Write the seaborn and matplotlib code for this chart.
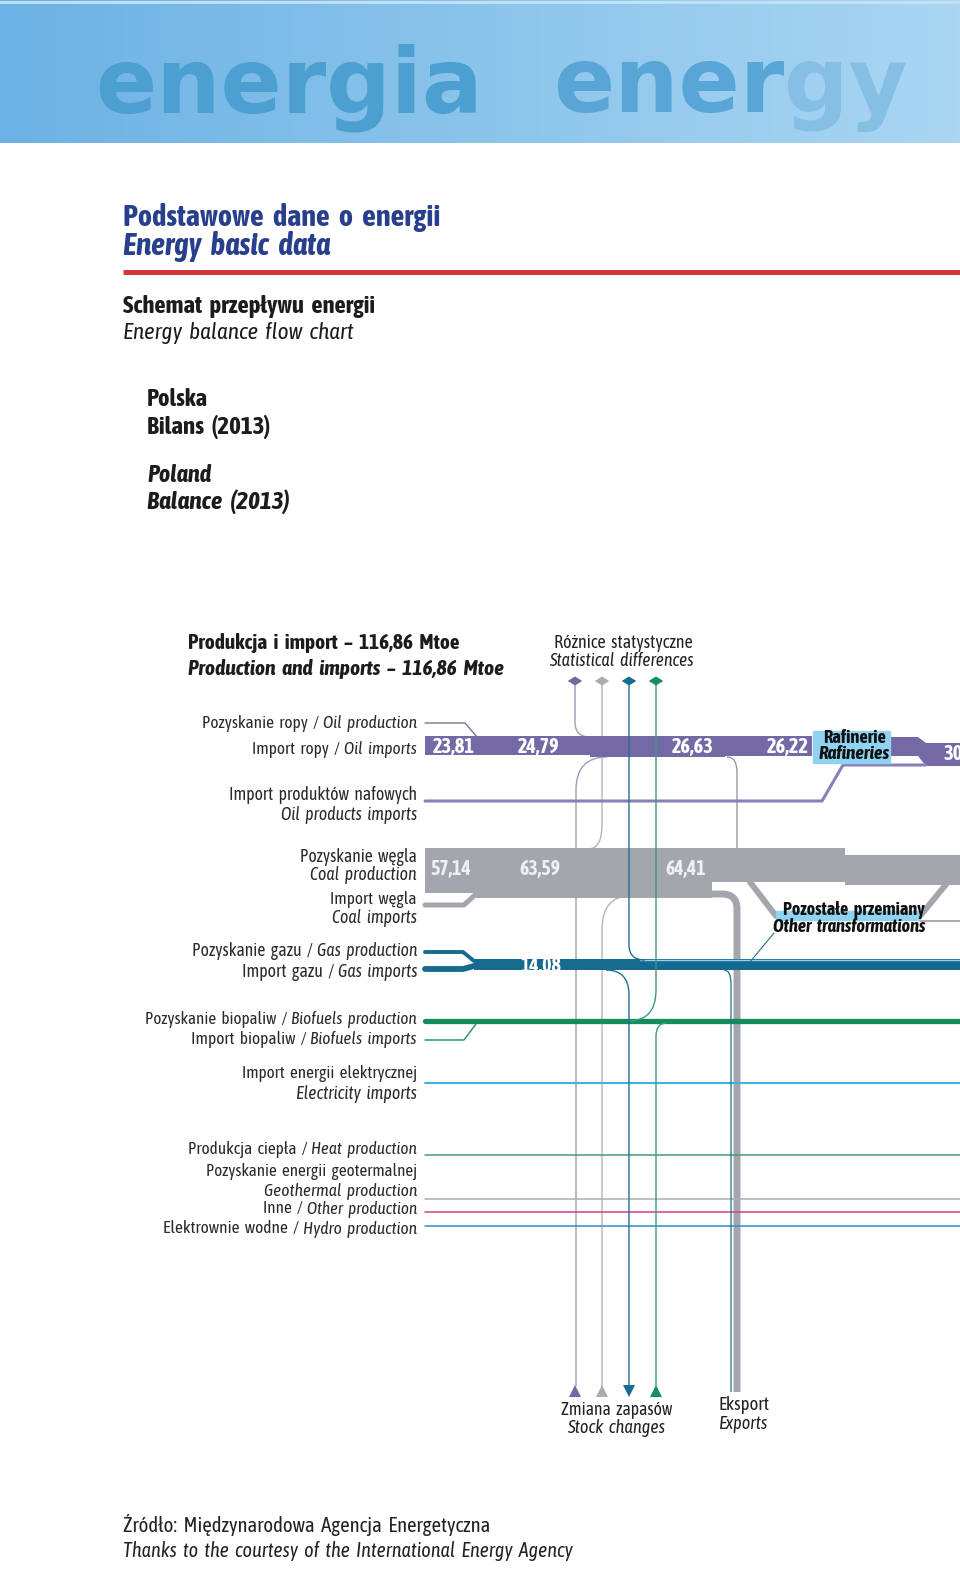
import numpy as np
import matplotlib
matplotlib.use('Agg')
import matplotlib.pyplot as plt
import seaborn as sns
from matplotlib import font_manager
from matplotlib.path import Path
from matplotlib.patches import PathPatch, Rectangle

# dane z bilansu (Mtoe)
oil_flow = [23.81, 24.79, 26.63, 26.22]
coal_flow = [57.14, 63.59, 64.41]
gas_flow = [14.08]
total_supply = 116.86
refinery_out = "30"

stat_groups = ['ropa', 'wegiel', 'gaz', 'biopaliwa']
stock_dir = ['up', 'up', 'down', 'up']
group_colors = {'ropa': '#7468a4', 'wegiel': '#a9abb1', 'gaz': '#176c92', 'biopaliwa': '#15905e'}

left_plain = ["Pozyskanie ropy /", "Import ropy /", "Import produktów nafowych", "",
              "Pozyskanie węgla", "", "Import węgla", "",
              "Pozyskanie gazu /", "Import gazu /",
              "Pozyskanie biopaliw /", "Import biopaliw /",
              "Import energii elektrycznej", "",
              "Produkcja ciepła /", "Pozyskanie energii geotermalnej", "",
              "Inne /", "Elektrownie wodne /"]
left_ital = ["Oil production", "Oil imports", "", "Oil products imports",
             "", "Coal production", "", "Coal imports",
             "Gas production", "Gas imports",
             "Biofuels production", "Biofuels imports",
             "", "Electricity imports",
             "Heat production", "", "Geothermal production",
             "Other production", "Hydro production"]
left_y = [724, 749, 795, 815, 857, 875, 899, 918, 951, 972,
          1020, 1040, 1073, 1094, 1150, 1172, 1191, 1209, 1229]
left_x0 = [202, 252, 229, 281, 300, 311, 330, 332, 192, 242,
           145, 190, 242, 296, 188, 206, 264, 263, 163]

SCALE = 0.78  # px / Mtoe


def fmt(v):
    return f"{v:.2f}".replace('.', ',')


sns.set_theme(style='white')
fm = font_manager.fontManager.ttflist


def wnum(w):
    return w if isinstance(w, (int, float)) else font_manager.weight_dict.get(str(w), 400)


def has_bold(name):
    return any(f.name == name and wnum(f.weight) >= 600 for f in fm)


narrow = sorted({f.name for f in fm if 'Narrow' in f.name or 'Condensed' in f.name})
narrow_bold = [n for n in narrow if has_bold(n)]
if narrow_bold:
    FAMILY = BOLD = narrow_bold[0]
elif narrow:
    FAMILY = narrow[0]
    BOLD = 'Roboto'
else:
    FAMILY = BOLD = 'Roboto'
plt.rcParams['font.family'] = [FAMILY, 'DejaVu Sans']

fig = plt.figure(figsize=(9.6, 15.7), dpi=100)
ax = fig.add_axes([0, 0, 1, 1])
ax.set_xlim(0, 960)
ax.set_ylim(1570, 0)
ax.axis('off')
renderer = fig.canvas.get_renderer()


def sp(s):
    # krój zwężony ma bardzo wąskie spacje
    return s.replace(' ', ' \u2006')


def fit(x, y, s, width, size=14, ha='left', **kw):
    if kw.get('fontweight') == 'bold':
        kw.setdefault('family', [BOLD, 'DejaVu Sans'])
    t = ax.text(x, y, sp(s), fontsize=size, ha=ha, va='center', **kw)
    w = t.get_window_extent(renderer).width
    t.set_fontsize(size * width / w)
    return t


# naglowek
grad = np.linspace(0, 1, 256)
c0 = np.array([108, 178, 228]) / 255
c1 = np.array([170, 214, 242]) / 255
img = (c0[None, :] * (1 - grad[:, None]) + c1[None, :] * grad[:, None])[None, :, :]
ax.imshow(img, extent=[0, 960, 143, 0], aspect='auto', zorder=0)
ax.plot([0, 960], [1.5, 1.5], color='#c4e2f5', lw=2, zorder=1)
hdr = dict(fontsize=65, fontweight='bold', family='DejaVu Sans', fontstretch='normal',
           va='baseline', ha='left', zorder=2)
ax.text(95, 112, "energia", color='#4c9fd1', **hdr)
t = ax.text(553, 112, "ener", color='#58a6d6', **hdr)
w = t.get_window_extent(renderer).width
ax.text(553 + w, 112, "gy", color='#85bfe4', **hdr)

# tytuly
fit(123, 218, "Podstawowe dane o energii", 317, 20, fontweight='bold', color='#283f8e')
fit(123, 247, "Energy basic data", 207, 20, fontweight='bold', style='italic', color='#283f8e')
ax.plot([123, 960], [272, 272], color='#d2363c', lw=3.6, solid_capstyle='butt')
fit(123, 306, "Schemat przepływu energii", 252, 16, fontweight='bold', color='#1c1c1c')
fit(123, 333, "Energy balance flow chart", 231, 16, style='italic', color='#1c1c1c')
fit(147, 399, "Polska", 61, 16, fontweight='bold', color='#1c1c1c')
fit(147, 427, "Bilans (2013)", 124, 16, fontweight='bold', color='#1c1c1c')
fit(147, 475, "Poland", 64, 16, fontweight='bold', style='italic', color='#1c1c1c')
fit(147, 502, "Balance (2013)", 143, 16, fontweight='bold', style='italic', color='#1c1c1c')

tot = fmt(total_supply)
fit(188, 643, f"Produkcja i import – {tot} Mtoe", 271, 14, fontweight='bold', color='#1c1c1c')
fit(188, 669, f"Production and imports – {tot} Mtoe", 315, 14, fontweight='bold',
    style='italic', color='#1c1c1c')
fit(554, 643, "Różnice statystyczne", 139, 12, color='#222222')
fit(549, 661, "Statistical differences", 144, 12, style='italic', color='#222222')

# etykiety po lewej
for p, it, yy, x0 in zip(left_plain, left_ital, left_y, left_x0):
    tp = ti = None
    wi = wp = 0
    gap = 4 if (p and it) else 0
    if it:
        ti = ax.text(417, yy, sp(it), ha='right', va='center', style='italic',
                     fontsize=12, color='#2a2a2a')
        wi = ti.get_window_extent(renderer).width
    if p:
        tp = ax.text(417, yy, sp(p), ha='right', va='center', fontsize=12, color='#2a2a2a')
        wp = tp.get_window_extent(renderer).width
    k = (417 - x0 - gap) / (wi + wp)
    if ti is not None:
        ti.set_fontsize(12 * k)
    if tp is not None:
        tp.set_fontsize(12 * k)
        tp.set_x(417 - wi * k - gap)


def path_line(pts, codes, color, lw, z=3):
    pth = Path(pts, codes)
    ax.add_patch(PathPatch(pth, fill=False, edgecolor=color, lw=lw, zorder=z,
                           capstyle='butt', joinstyle='miter'))


M, L, C = Path.MOVETO, Path.LINETO, Path.CURVE3

# ropa
oil_c = '#7569a5'
ox = [425, 478, 590, 725, 812]
oth = [v * SCALE for v in oil_flow] + [oil_flow[-1] * SCALE]
ax.fill_between(ox, 736, [736 + h for h in oth], step='post', color=oil_c, lw=0, zorder=4)
ax.plot([425, 465, 477], [723, 723, 737], color='#75738f', lw=1.0, zorder=4)
for xx, v in zip([433, 518, 672, 767], oil_flow):
    fit(xx, 747, fmt(v), 42, 14, color='white', fontweight='bold', zorder=6)
ax.add_patch(Rectangle((813, 731), 77, 32, color='#8fd3f0', zorder=5))
fit(823, 738, "Rafinerie", 63, 11.5, fontweight='bold', color='#111111', zorder=6)
fit(819, 754, "Rafineries", 71, 11.5, fontweight='bold', style='italic',
    color='#111111', zorder=6)
ax.fill([890, 918, 926, 960, 960, 926, 918, 890], [737, 737, 743, 743, 766, 766, 756, 756],
        color=oil_c, lw=0, zorder=4)
ax.plot([425, 822, 843, 926], [801, 801, 765, 765], color='#8a80b8', lw=2.2, zorder=4,
        solid_joinstyle='miter')
ax.text(944, 754, refinery_out, color='white', fontsize=15, fontweight='bold',
        family=[BOLD, 'DejaVu Sans'], va='center', zorder=6)

# wegiel
coal_c = '#a3a6ad'
cx = [425, 476, 590, 712]
cth = [v * SCALE for v in coal_flow] + [coal_flow[-1] * SCALE]
ax.fill_between(cx, 848, [848 + h for h in cth], step='post', color=coal_c, lw=0, zorder=4)
ax.fill_between([712, 845, 960], [848, 855, 855], [882, 885, 885], step='post',
                color=coal_c, lw=0, zorder=4)
ax.plot([425, 464, 476], [905, 905, 894], color=coal_c, lw=3.6, zorder=4)
for xx, v in zip([430, 519, 665], coal_flow):
    fit(xx, 869, fmt(v), 41, 14, color='#eef0f6', fontweight='bold', zorder=6)
path_line([(700, 894), (722, 894), (737, 894), (737, 909), (737, 1392)],
          [M, L, C, C, L], coal_c, 5.0, z=4)
ax.plot([750, 776, 920, 948], [882, 916, 916, 882], color=coal_c, lw=4.3, zorder=4)
ax.add_patch(Rectangle((776, 911), 144, 9, color='#8fd3f0', zorder=5))
ax.plot([920, 960], [921, 921], color='#9a9ea6', lw=1.2, zorder=4)
fit(783, 910, "Pozostałe przemiany", 142, 11.5, fontweight='bold', color='#111111', zorder=6)
fit(773, 927, "Other transformations", 153, 11.5, fontweight='bold', style='italic',
    color='#111111', zorder=6)
ax.plot([774, 750], [933, 962], color='#1f7090', lw=0.8, zorder=6)

# gaz
gas_c = '#16698f'
gth = gas_flow[0] * SCALE
ax.fill_between([474, 960], 959, 959 + gth, color=gas_c, lw=0, zorder=4)
ax.plot([425, 463, 474], [952, 952, 961], color=gas_c, lw=2.8, zorder=4)
ax.plot([425, 463, 474], [969, 969, 966], color=gas_c, lw=4.2, zorder=4)
ax.plot([640, 960], [959.5, 959.5], color='#8fd3f0', lw=1.0, zorder=5)
fit(520, 966, fmt(gas_flow[0]), 41, 14, color='white', fontweight='bold', zorder=6)

# biopaliwa i pozostale
ax.plot([425, 960], [1021, 1021], color='#148c5c', lw=3.8, zorder=4)
ax.plot([425, 464, 476], [1040, 1040, 1024], color='#2a9a6a', lw=1.1, zorder=4)
ax.plot([425, 960], [1083, 1083], color='#3ab3e3', lw=1.5, zorder=4)
ax.plot([425, 960], [1155, 1155], color='#3f9e72', lw=1.1, zorder=4)
ax.plot([425, 960], [1199, 1199], color='#b7aab4', lw=1.1, zorder=4)
ax.plot([425, 960], [1212, 1212], color='#d4408c', lw=1.1, zorder=4)
ax.plot([425, 960], [1226, 1226], color='#2f8fc4', lw=1.1, zorder=4)

# roznice statystyczne i zmiany zapasow
path_line([(575, 681), (575, 722), (575, 737), (590, 737)], [M, L, C, C], '#9f9bb8', 1.0)
path_line([(607, 757), (576, 757), (576, 790), (576, 1386)], [M, C, C, L], '#9f9bb8', 1.0)
path_line([(602, 681), (602, 825), (602, 849), (588, 849)], [M, L, C, C], '#b3b5ba', 1.0)
path_line([(630, 896), (602, 896), (602, 930), (602, 1386)], [M, C, C, L], '#b3b5ba', 1.0)
path_line([(629, 681), (629, 945), (629, 960), (645, 960)], [M, L, C, C], '#1f7090', 1.0, z=5)
path_line([(606, 970), (629, 970), (629, 995), (629, 1386)], [M, C, C, L], '#1f7090', 1.0, z=5)
path_line([(656, 681), (656, 990), (656, 1020), (630, 1021)], [M, L, C, C], '#3b9a80', 1.0, z=5)
path_line([(667, 1023), (656, 1023), (656, 1036), (656, 1386)], [M, C, C, L], '#3b9a80', 1.0, z=5)
path_line([(727, 757), (737, 757), (737, 772), (737, 848)], [M, C, C, L], '#8d8fa0', 0.9)
path_line([(724, 970), (731, 970), (731, 984), (731, 1392)], [M, C, C, L], '#1f7090', 0.9, z=5)

diamond = [(-1, 0), (0, 0.62), (1, 0), (0, -0.62), (-1, 0)]
stat_x = [575, 602, 629, 656]
sns.scatterplot(x=stat_x, y=[681] * 4, hue=stat_groups, palette=group_colors,
                marker=diamond, s=110, linewidth=0, legend=False, ax=ax, zorder=7)
sns.scatterplot(x=stat_x, y=[1391] * 4, hue=stat_groups, palette=group_colors,
                style=stock_dir, markers={'up': '^', 'down': 'v'}, s=75, linewidth=0,
                legend=False, ax=ax, zorder=7)
ax.set_xlim(0, 960)
ax.set_ylim(1570, 0)
ax.axis('off')

fit(561, 1410, "Zmiana zapasów", 111, 12.5, color='#222222')
fit(567, 1428, "Stock changes", 98, 12.5, style='italic', color='#222222')
fit(719, 1405, "Eksport", 51, 12.5, color='#222222')
fit(719, 1424, "Exports", 49, 12.5, style='italic', color='#222222')

fit(123, 1525, "Źródło: Międzynarodowa Agencja Energetyczna", 367, 14.5, color='#222222')
fit(123, 1551, "Thanks to the courtesy of the International Energy Agency", 449, 14.5,
    style='italic', color='#222222')

fig.savefig('out.png', dpi=100)
